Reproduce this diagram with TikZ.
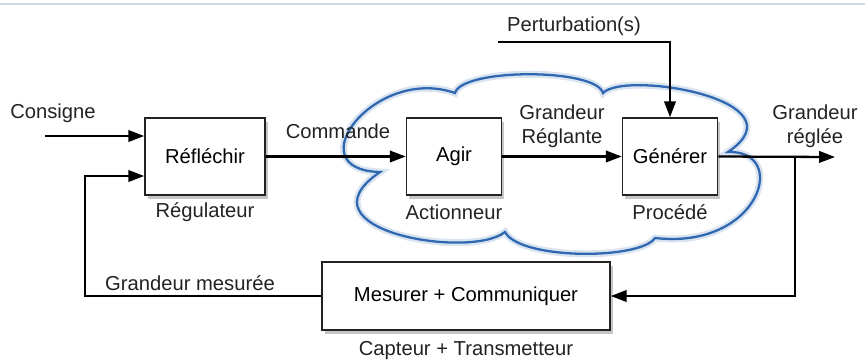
\documentclass[tikz,border=0pt]{standalone}
\usepackage{fontspec}
\setmainfont{Liberation Sans}
\usepackage{tikz}
\usetikzlibrary{positioning,arrows.meta,calc,shadows}
\definecolor{cloudblue}{HTML}{2F68B0}
\definecolor{inkgray}{HTML}{222222}
\tikzset{
  blockbox/.style={draw=inkgray, line width=0.9pt, fill=white, minimum height=1.54cm,
    drop shadow={shadow xshift=1.5pt, shadow yshift=-2pt, opacity=0.45}},
  flow/.style={draw=black, line width=1.3pt, -{Triangle[length=9pt,width=6.5pt]}},
  tag/.style={text=inkgray, align=center, inner sep=0pt},
  cloudline/.style={draw=cloudblue, line width=1.3pt,
    preaction={draw=cloudblue!18, line width=4pt}},
}

\begin{document}
\begin{tikzpicture}[x=0.02cm, y=-0.02cm, font=\fontsize{11.5}{13.5}\selectfont]
\useasboundingbox (0,0) rectangle (865,362);
\draw[cloudblue!25, line width=1pt] (0,4) -- (865,4);
% cloud round actuator and process
\draw[cloudline] (380,172) .. controls (295,170) and (375,65) .. (455,93)
  .. controls (462,68) and (596,68) .. (603,93)
  .. controls (625,70) and (805,100) .. (728,152)
  .. controls (790,150) and (760,250) .. (655,238)
  .. controls (640,260) and (520,260) .. (505,232)
  .. controls (470,260) and (295,230) .. cycle;
% blocks
\node[blockbox, minimum width=2.4cm] (refl) at (205,156.5) {Réfléchir};
\node[blockbox, minimum width=1.9cm] (agir) at (454,156.5) {Agir};
\node[blockbox, minimum width=1.9cm] (gen) at (670,156.5) {Générer};
\node[blockbox, minimum width=5.76cm, minimum height=1.36cm] (mes) at (466,296) {Mesurer + Communiquer};
\node[tag] (reglab) at (205,212) {Régulateur};
\node[tag] (actlab) at (454,212) {Actionneur};
\node[tag] (proclab) at (670,212) {Procédé};
\node[tag] (capt) at (466,351) {Capteur + Transmetteur};
% signals
\coordinate (cons) at (45,136);
\coordinate (fbtop) at (85,176);
\coordinate (pert) at (498,42);
\coordinate (branch) at (795,157);
\coordinate (out) at (835,157);
\draw[flow] (cons) -- (cons -| refl.west);
\draw[flow] (mes.west) -| (fbtop) -- (fbtop -| refl.west);
\draw[flow] (refl.east) -- (agir.west);
\draw[flow] (agir.east) -- (gen.west);
\draw[flow] (pert) -| (gen.north);
\draw[flow] (gen.east) -- (out);
\draw[flow] (branch) |- (mes.east);
\node[tag] (conslab) at (53,113) {Consigne};
\node[tag] (cmdlab) at (338,131) {Commande};
\node[tag] (grlab) at (562,126) {Grandeur\\Réglante};
\node[tag] (outlab) at (815,126) {Grandeur\\réglée};
\node[tag] (pertlab) at (574,26) {Perturbation(s)};
\node[tag] (meslab) at (190,283) {Grandeur mesurée};
\end{tikzpicture}
\end{document}
